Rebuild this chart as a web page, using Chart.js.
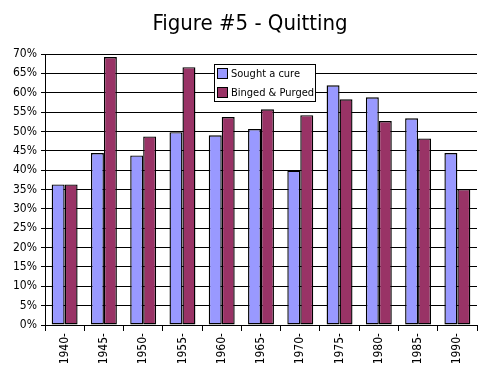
<!DOCTYPE html>
<html>
<head>
<meta charset="utf-8">
<script src="https://cdn.jsdelivr.net/npm/chart.js@4"></script>
<style>
  html, body { margin: 0; padding: 0; background: #fff; }
  #wrap { width: 500px; height: 375px; }
</style>
</head>
<body>
<div id="wrap"><canvas id="quitChart" width="500" height="375"></canvas></div>
<script>
// ─── Data ─────────────────────────────────────────────────────────────────────
const years = ['1940-', '1945-', '1950-', '1955-', '1960-', '1965-', '1970-', '1975-', '1980-', '1985-', '1990-'];
const soughtCure = [36.3, 44.4, 43.8, 49.8, 49.0, 50.6, 39.9, 61.9, 58.8, 53.4, 44.4];
const bingedPurged = [36.3, 69.2, 48.7, 66.6, 53.7, 55.7, 54.2, 58.3, 52.7, 48.2, 35.1];
const seriesNames = ['Sought a cure', 'Binged & Purged'];
const chartTitle = 'Figure #5 - Quitting';

const fontFamily = '"DejaVu Sans Condensed", "DejaVu Sans", sans-serif';

// Title centred on the whole canvas (built-in title centres on the padded box)
const pageTitle = {
  id: 'pageTitle',
  afterDraw(chart) {
    const { ctx } = chart;
    ctx.save();
    ctx.font = `22px ${fontFamily}`;
    ctx.fillStyle = '#000';
    ctx.textAlign = 'center';
    ctx.textBaseline = 'middle';
    ctx.fillText(chartTitle, chart.width / 2, 24);
    ctx.restore();
  },
};

// Floating legend box drawn inside the plot area
const boxLegend = {
  id: 'boxLegend',
  afterDatasetsDraw(chart) {
    const { ctx } = chart;
    const x = 214.5, y = 64.5, w = 101, h = 37;
    ctx.save();
    ctx.fillStyle = '#fff';
    ctx.strokeStyle = '#000';
    ctx.lineWidth = 1;
    ctx.fillRect(x, y, w, h);
    ctx.strokeRect(x, y, w, h);
    ctx.font = `11px ${fontFamily}`;
    ctx.textBaseline = 'middle';
    chart.data.datasets.forEach((ds, i) => {
      const sy = 68.5 + i * 19;
      ctx.fillStyle = ds.backgroundColor;
      ctx.fillRect(217.5, sy, 10, 10);
      ctx.strokeRect(217.5, sy, 10, 10);
      ctx.fillStyle = '#000';
      ctx.fillText(ds.label, 231, sy + 5.5);
    });
    ctx.restore();
  },
};

new Chart(document.getElementById('quitChart'), {
  type: 'bar',
  data: {
    labels: years,
    datasets: [
      { label: seriesNames[0], data: soughtCure, backgroundColor: '#9999ff', borderColor: '#000', borderWidth: 1.4, borderSkipped: false },
      { label: seriesNames[1], data: bingedPurged, backgroundColor: '#993366', borderColor: '#000', borderWidth: 1.4, borderSkipped: false },
    ],
  },
  options: {
    responsive: false,
    animation: false,
    devicePixelRatio: 1,
    categoryPercentage: 0.66,
    barPercentage: 1.0,
    layout: { padding: { left: 0, right: 23, top: 54, bottom: 0 } },
    plugins: {
      legend: { display: false },
      tooltip: { enabled: false },
      title: { display: false },
    },
    scales: {
      x: {
        grid: { drawOnChartArea: false, drawTicks: true, tickLength: 6, color: '#000', offset: true },
        border: { display: true, color: '#000', width: 1 },
        ticks: {
          color: '#000',
          font: { family: fontFamily, size: 12 },
          maxRotation: 90,
          minRotation: 90,
          padding: 2,
          autoSkip: false,
        },
        afterFit(axis) { axis.height = 50; },
      },
      y: {
        min: 0,
        max: 70,
        grid: { color: '#000', lineWidth: 1, tickLength: 4 },
        border: { display: true, color: '#000', width: 1 },
        ticks: {
          stepSize: 5,
          color: '#000',
          font: { family: fontFamily, size: 12 },
          padding: 4,
          callback: (v) => `${v}%`,
        },
        afterFit(axis) { axis.width = 45; },
      },
    },
  },
  plugins: [boxLegend, pageTitle],
});
</script>
</body>
</html>
